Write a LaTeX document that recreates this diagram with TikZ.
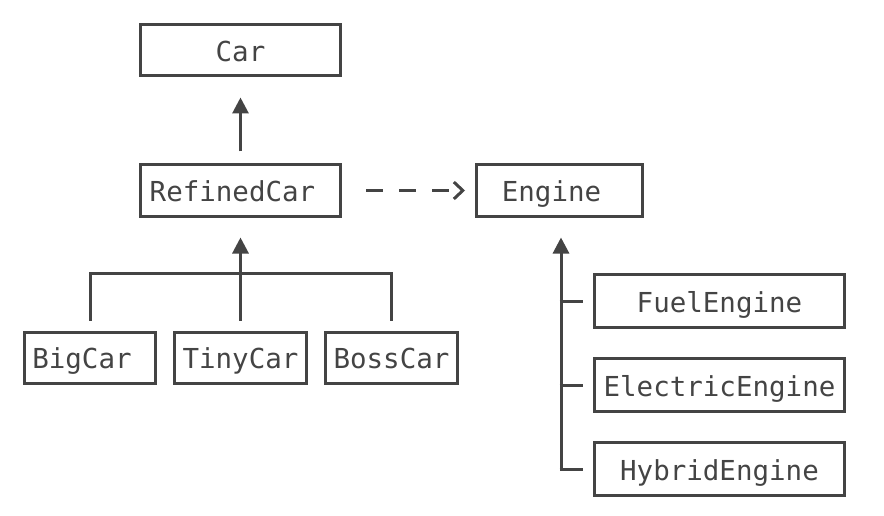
\documentclass[tikz,border=0pt]{standalone}
\usepackage{fontspec}
\setmonofont{DejaVu Sans Mono}
\usepackage{xcolor}
\usepackage{tikz}
\usetikzlibrary{arrows.meta,positioning,calc}
\definecolor{ink}{HTML}{444444}
\newcommand\lpad[1]{\kern-16pt#1}

\begin{document}
\begin{tikzpicture}[
  x=1pt,y=-1pt,
  cls/.style={rectangle,draw=ink,line width=3pt,text=ink,inner sep=0pt,
    text height=23pt,text depth=1pt,
    font=\ttfamily\fontsize{27.5}{30}\selectfont,minimum height=51pt},
  link/.style={ink,line width=3pt},
  inh/.style={link,-{Triangle[length=16pt,width=16pt]}},
  dep/.style={link,dash pattern=on 17pt off 16pt,-{Straight Barb[length=9pt,width=17pt,line width=3pt]}}]
\useasboundingbox (0,0) rectangle (884,516);
\node[cls,minimum width=200pt] (car) at (240.5,50.5) {Car};
\node[cls,minimum width=200pt] (refined) at (240.5,190.5) {\lpad{RefinedCar}};
\node[cls,minimum width=166pt] (engine) at (559.5,190.5) {\lpad{Engine}};
\node[cls,minimum width=131pt] (big) at (90,357.5) {\lpad{BigCar}};
\node[cls,minimum width=132pt] (tiny) at (240.5,357.5) {TinyCar};
\node[cls,minimum width=132pt] (boss) at (391.5,357.5) {BossCar};
\node[cls,minimum width=250pt,minimum height=53pt] (fuel) at (719.5,301) {FuelEngine};
\node[cls,minimum width=250pt,minimum height=53pt] (electric) at (719.5,385) {ElectricEngine};
\node[cls,minimum width=250pt,minimum height=53pt] (hybrid) at (719.5,469) {HybridEngine};
% inheritance
\draw[inh,shorten <=12pt,shorten >=20pt] (refined.north) -- (car.south);
\coordinate (bar) at (240.5,273);
\draw[link] ([yshift=10pt]big.north) |- (bar) -| ([yshift=10pt]boss.north);
\draw[inh,shorten >=20pt] ([yshift=10pt]tiny.north) -- (refined.south);
\draw[inh,shorten >=20pt] ($(engine.south |- hybrid.west)+(1.5,0)$) -- ($(engine.south)+(1.5,0)$);
\foreach \n in {fuel,electric,hybrid} {
  \draw[link] ($(engine.south |- \n.west)+(0,0)$) -- ([xshift=-10pt]\n.west);
}
% dependency
\draw[dep,shorten <=24pt,shorten >=10pt] (refined.east) -- (engine.west);
\end{tikzpicture}
\end{document}
